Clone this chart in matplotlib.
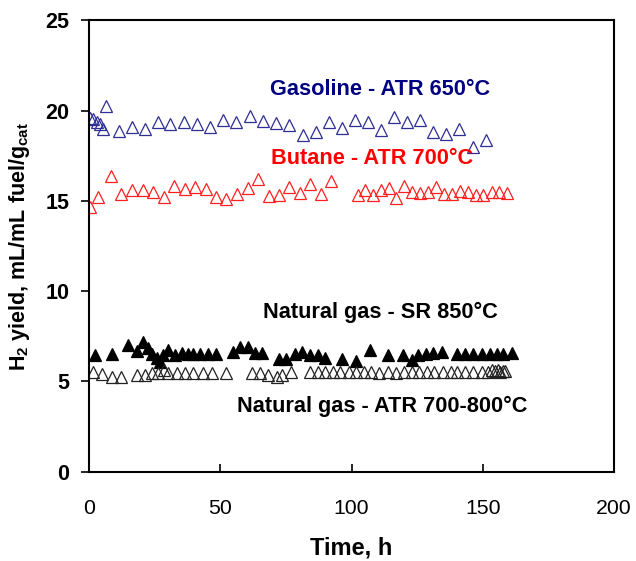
import numpy as np
import matplotlib
matplotlib.use('Agg')
import matplotlib.pyplot as plt

# gasoline ATR 650C (open, blue)
gas_t = [0.5, 1.6, 2.9, 4.2, 5.4, 6.5, 11.4, 16.3, 21.3, 26.4, 30.9, 36.3, 41.3, 46.1, 51.2,
         55.9, 61.3, 66.2, 71.2, 76.3, 81.6, 86.4, 91.4, 96.3, 101.3, 106.4, 111.1, 116.3,
         121.3, 126.1, 131.2, 136.0, 141.1, 146.4, 151.2]
gas_y = [19.6, 19.52, 19.36, 19.25, 18.97, 20.28, 18.89, 19.11, 18.97, 19.36, 19.26, 19.36, 19.26,
         19.11, 19.48, 19.36, 19.71, 19.45, 19.30, 19.21, 18.65, 18.84, 19.39, 19.02, 19.48,
         19.39, 18.93, 19.63, 19.39, 19.48, 18.84, 18.71, 18.99, 18.00, 18.38]

# butane ATR 700C (open, red)
but_t = [0.4, 3.5, 8.3, 12.2, 16.3, 20.5, 24.5, 28.7, 32.5, 36.6, 40.4, 44.5, 48.3, 52.1, 56.3,
         60.5, 64.5, 68.6, 72.5, 76.3, 80.4, 84.2, 88.2, 92.2, 102.4, 105.1, 108.3, 111.1, 114.3,
         117.0, 120.1, 123.2, 126.1, 129.3, 132.1, 135.2, 138.4, 141.3, 144.3, 147.3, 150.2,
         153.4, 156.3, 159.3]
but_y = [14.65, 15.23, 16.40, 15.38, 15.60, 15.60, 15.51, 15.20, 15.84, 15.66, 15.79, 15.66, 15.23,
         15.09, 15.37, 15.70, 16.21, 15.27, 15.33, 15.79, 15.42, 15.94, 15.38, 16.12, 15.33,
         15.60, 15.33, 15.60, 15.70, 15.14, 15.84, 15.48, 15.42, 15.51, 15.79, 15.38, 15.38,
         15.57, 15.51, 15.33, 15.33, 15.51, 15.51, 15.42]

# natural gas SR 850C (filled, black)
sr_t = [2.3, 8.6, 15.0, 18.2, 20.7, 22.6, 23.9, 25.8, 27.0, 28.3, 30.2, 32.8, 35.3, 37.8, 39.7,
        42.3, 45.4, 48.4, 55.0, 57.5, 60.7, 63.2, 65.8, 72.5, 75.0, 78.5, 81.0, 84.2, 87.4, 89.9,
        96.3, 101.7, 107.0, 114.0, 119.7, 122.9, 125.4, 128.4, 131.2, 134.4, 140.1, 143.2,
        146.4, 149.6, 152.8, 155.3, 157.8, 161.0]
sr_y = [6.46, 6.51, 7.01, 6.70, 7.20, 6.83, 6.51, 6.27, 6.09, 6.46, 6.74, 6.46, 6.55, 6.51, 6.51,
        6.51, 6.51, 6.51, 6.64, 6.92, 6.92, 6.59, 6.59, 6.22, 6.22, 6.51, 6.64, 6.46, 6.46, 6.27,
        6.22, 6.14, 6.74, 6.46, 6.46, 6.18, 6.46, 6.51, 6.59, 6.64, 6.51, 6.51, 6.51, 6.51,
        6.51, 6.51, 6.51, 6.55]

# natural gas ATR 700-800C (open, black)
atr_t = [1.6, 4.8, 8.6, 12.2, 18.4, 21.3, 23.9, 26.4, 28.6, 30.2, 33.4, 36.6, 39.7, 43.3, 46.7,
         52.3, 62.0, 65.1, 68.3, 71.5, 73.4, 76.8, 84.2, 87.4, 89.9, 93.1, 95.7, 98.9, 101.7,
         104.8, 107.4, 110.6, 113.8, 117.0, 120.1, 123.2, 125.7, 128.9, 131.5, 134.7, 137.9,
         140.1, 143.2, 146.4, 149.6, 152.1, 153.6, 154.6, 155.6, 156.6, 157.6, 158.5]
atr_y = [5.53, 5.40, 5.25, 5.25, 5.35, 5.35, 5.44, 5.48, 5.63, 5.48, 5.48, 5.48, 5.48, 5.48, 5.44,
         5.48, 5.48, 5.48, 5.35, 5.25, 5.35, 5.53, 5.53, 5.53, 5.53, 5.53, 5.53, 5.53, 5.53,
         5.53, 5.53, 5.44, 5.53, 5.44, 5.53, 5.53, 5.53, 5.53, 5.53, 5.53, 5.53,
         5.53, 5.53, 5.53, 5.53, 5.53, 5.60, 5.55, 5.62, 5.50, 5.58, 5.55]

#%%

plt.rcParams['font.family'] = ['Liberation Sans', 'DejaVu Sans']
plt.rcParams['mathtext.fontset'] = 'custom'
plt.rcParams['mathtext.rm'] = 'Liberation Sans:bold'
plt.rcParams['mathtext.it'] = 'Liberation Sans:bold'
plt.rcParams['mathtext.bf'] = 'Liberation Sans:bold'

fig = plt.figure(figsize=(6.36, 5.61), dpi=100)
ax = fig.add_axes([0.14, 0.1595, 0.8255, 0.804])

ms = 8
ax.plot(gas_t, gas_y, ls='none', marker='^', ms=ms, mfc='none', mec='#2E2E96', mew=0.9)
ax.plot(but_t, but_y, ls='none', marker='^', ms=ms, mfc='none', mec='#FF2020', mew=0.9)
ax.plot(sr_t, sr_y, ls='none', marker='^', ms=ms, mfc='black', mec='black', mew=0.9)
ax.plot(atr_t, atr_y, ls='none', marker='^', ms=ms, mfc='none', mec='#222222', mew=0.9)

tfs = 15.7
ax.text(111, 21.15, 'Gasoline - ATR 650°C', color='#000080', fontsize=tfs, fontweight='bold',
        ha='center', va='center')
ax.text(108, 17.36, 'Butane - ATR 700°C', color='#FF0000', fontsize=tfs, fontweight='bold',
        ha='center', va='center')
ax.text(111, 8.79, 'Natural gas - SR 850°C', color='black', fontsize=tfs, fontweight='bold',
        ha='center', va='center')
ax.text(111.5, 3.59, 'Natural gas - ATR 700-800°C', color='black', fontsize=tfs, fontweight='bold',
        ha='center', va='center')

ax.set_xlim(0, 200)
ax.set_ylim(0, 25)
ax.set_xticks([0, 50, 100, 150, 200])
ax.set_yticks([0, 5, 10, 15, 20, 25])
ax.tick_params(axis='x', direction='in', length=6, width=1.2, labelsize=15.3, pad=20)
ax.tick_params(axis='y', direction='out', length=6, width=1.2, labelsize=15.5, pad=8)
for lab in ax.get_yticklabels():
    lab.set_fontweight('bold')
for sp in ax.spines.values():
    sp.set_linewidth(1.5)

ax.set_xlabel('Time, h', fontsize=17, fontweight='bold', labelpad=13)
ax.set_ylabel(r'H$_2$ yield, mL/mL fuel/g$_{cat}$', fontsize=15.5, fontweight='bold', labelpad=10)

fig.savefig('out.png', dpi=100)
